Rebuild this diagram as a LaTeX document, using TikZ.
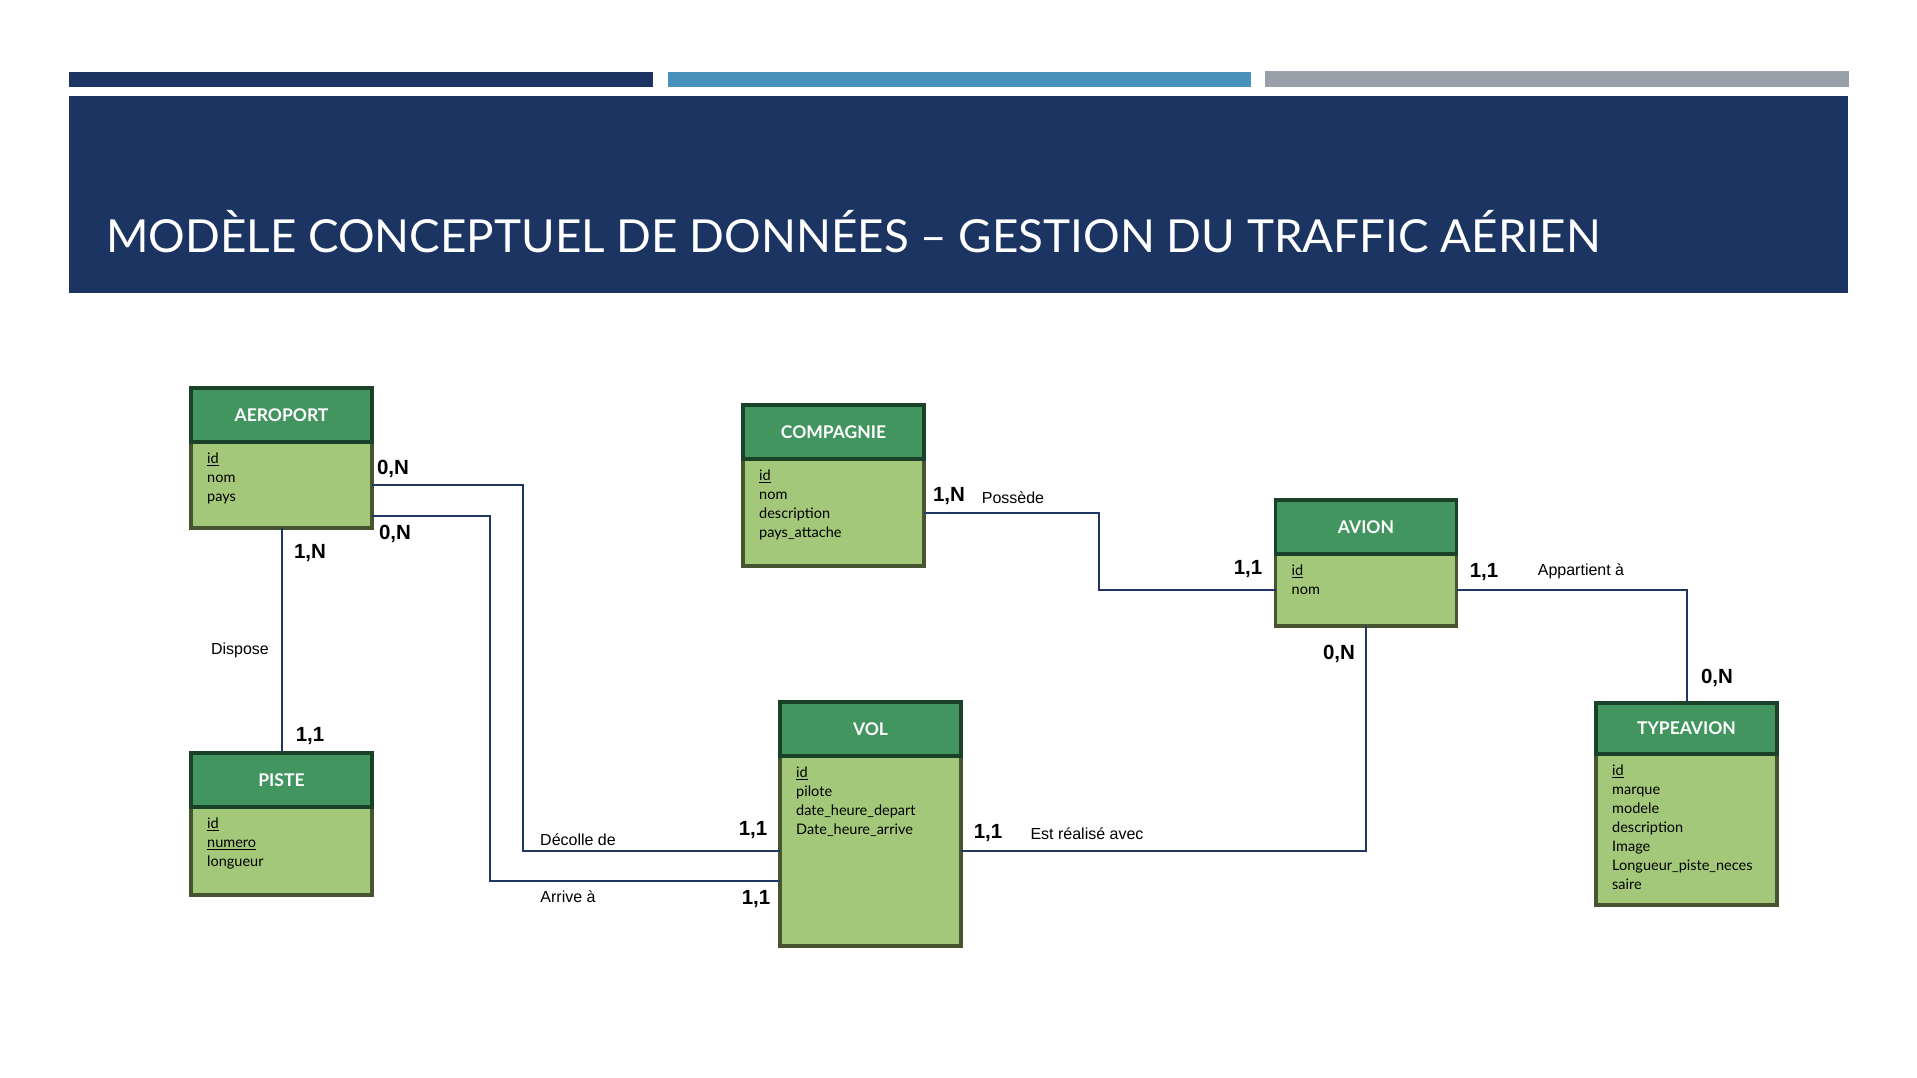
\documentclass[tikz,border=0pt]{standalone}
\usepackage{fontspec}
\usepackage{graphicx}
\setmainfont{Lato}
\newfontfamily\arial{Liberation Sans}
\usetikzlibrary{positioning}
\definecolor{navy}{RGB}{28,52,97}
\definecolor{barblue}{RGB}{72,145,189}
\definecolor{bargray}{RGB}{152,160,170}
\definecolor{headgreen}{RGB}{67,149,96}
\definecolor{headline}{RGB}{26,66,40}
\definecolor{bodygreen}{RGB}{163,200,121}
\definecolor{bodyline}{RGB}{70,84,48}
\definecolor{linkblue}{RGB}{32,55,100}
\begin{document}
\begin{tikzpicture}[x=1pt,y=-1pt,
        head/.style={rectangle,draw=headline,fill=headgreen,line width=3.5pt,
          inner sep=0pt,outer sep=0pt,minimum width=181pt,minimum height=54pt,
          text=white,font=\fontsize{17.5}{20}\selectfont\bfseries},
        body/.style={rectangle,draw=bodyline,fill=bodygreen,line width=3.5pt,
          inner sep=0pt,outer sep=0pt,minimum width=181pt},
        attr/.style={inner sep=0pt,align=left,
          font=\fontsize{14.5}{19}\selectfont},
        card/.style={inner sep=0pt,anchor=base,
          font=\arial\bfseries\fontsize{20.5}{24}\selectfont},
        rel/.style={inner sep=0pt,anchor=base,
          font=\arial\fontsize{16}{19}\selectfont},
        link/.style={draw=linkblue,line width=2pt}]
      \useasboundingbox (0,0) rectangle (1917,1078);
      \fill[white] (0,0) rectangle (1917,1078);
      % banner
      \fill[navy] (69,72) rectangle (653,87);
      \fill[barblue] (668,72) rectangle (1251,87);
      \fill[bargray] (1265,71) rectangle (1849,87);
      \fill[navy] (69,96) rectangle (1848,293);
      \node (title) at (106,252) [anchor=base west,inner sep=0pt,text=white,
        font=\fontsize{45.5}{50}\selectfont]
        {\resizebox{1494pt}{\height}{MODÈLE CONCEPTUEL DE DONNÉES – GESTION DU TRAFFIC AÉRIEN}};
      % entities
      \node (aerob) at (281.5,485) [body,minimum height=86pt] {};
      \node (aero) [head,above=0pt of aerob] {AEROPORT};
      \node (aeroa) [attr,below right=11pt and 16pt of aerob.north west]
        {\underline{id}\\nom\\pays};
      \node (compb) at (833.5,512.5) [body,minimum height=107pt] {};
      \node (comp) [head,above=0pt of compb] {COMPAGNIE};
      \node (compa) [attr,below right=11pt and 16pt of compb.north west]
        {\underline{id}\\nom\\description\\pays\_attache};
      \node (avionb) at (1366,590) [body,minimum height=72pt] {};
      \node (avion) [head,above=0pt of avionb] {AVION};
      \node (aviona) [attr,below right=11pt and 16pt of avionb.north west]
        {\underline{id}\\nom};
      \node (pisteb) at (281.5,851) [body,minimum height=88pt] {};
      \node (piste) [head,above=0pt of pisteb] {PISTE};
      \node (pistea) [attr,below right=11pt and 16pt of pisteb.north west]
        {\underline{id}\\\underline{numero}\\longueur};
      \node (volb) at (870.5,851) [body,minimum height=190pt] {};
      \node (vol) [head,above=0pt of volb] {VOL};
      \node (vola) [attr,below right=11pt and 16pt of volb.north west]
        {\underline{id}\\pilote\\date\_heure\_depart\\Date\_heure\_arrive};
      \node (typb) at (1686.5,829.5) [body,minimum height=151pt] {};
      \node (typ) [head,minimum height=51pt,above=0pt of typb] {TYPEAVION};
      \node (typa) [attr,below right=11pt and 16pt of typb.north west]
        {\underline{id}\\marque\\modele\\description\\Image\\Longueur\_piste\_neces\\saire};
      % links
      \coordinate (decx) at (523,0);
      \coordinate (arrx) at (490,0);
      \coordinate (posx) at (1099,0);
      \coordinate (aeroout) at ([yshift=-31pt]aerob.east);
      \coordinate (volin) at ([yshift=-30pt]volb.west);
      \draw[link] (aerob.east) -| (volb.west -| decx) -- (volb.west);
      \draw[link] (aeroout) -| (volin -| arrx) -- (volin);
      \draw[link] (aerob.south) -- (piste.north);
      \draw[link] (compb.east) -| (avionb.west -| posx) -- (avionb.west);
      \draw[link] (avionb.east) -| (typ.north);
      \draw[link] (avionb.south) |- (volb.east);
      % cardinalities
      \node (c1) at (393,474) [card] {0,N};
      \node (c2) at (395,539) [card] {0,N};
      \node (c3) at (310,558) [card] {1,N};
      \node (c4) at (310,741) [card] {1,1};
      \node (c5) at (753,835) [card] {1,1};
      \node (c6) at (756,904) [card] {1,1};
      \node (c7) at (949,501) [card] {1,N};
      \node (c8) at (1248,574) [card] {1,1};
      \node (c9) at (1484,577) [card] {1,1};
      \node (c10) at (1339,659) [card] {0,N};
      \node (c11) at (1717,683) [card] {0,N};
      \node (c12) at (988,838) [card] {1,1};
      % relations
      \node (dispose) at (240,654) [rel] {Dispose};
      \node (decolle) at (578,845) [rel] {Décolle de};
      \node (arrive) at (568,902) [rel] {Arrive à};
      \node (possede) at (1013,503) [rel] {Possède};
      \node (appart) at (1581,575) [rel] {Appartient à};
      \node (realise) at (1087,839) [rel] {Est réalisé avec};
\end{tikzpicture}
\end{document}
